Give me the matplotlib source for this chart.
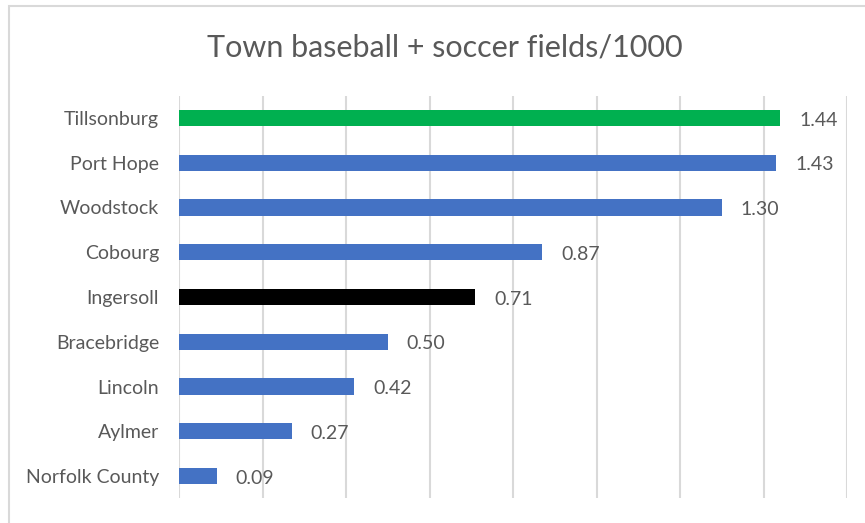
import matplotlib
matplotlib.use("Agg")
import matplotlib.pyplot as plt
from matplotlib.patches import Rectangle

towns = ["Tillsonburg", "Port Hope", "Woodstock", "Cobourg", "Ingersoll",
         "Bracebridge", "Lincoln", "Aylmer", "Norfolk County"]
values = [1.44, 1.43, 1.30, 0.87, 0.71, 0.50, 0.42, 0.27, 0.09]
colors = ["#00B050", "#4472C4", "#4472C4", "#4472C4", "#000000",
          "#4472C4", "#4472C4", "#4472C4", "#4472C4"]
title = "Town baseball + soccer fields/1000"

plt.rcParams['font.family'] = ['Lato', 'DejaVu Sans']
text_color = "#595959"

fig = plt.figure(figsize=(8.65, 5.23), dpi=100)
fig.patch.set_facecolor("white")
# chart border
fig.patches.append(Rectangle((9/865, -0.05), 1.2, 1 - 6/523 + 0.05,
                             transform=fig.transFigure, fill=False,
                             edgecolor="#D9D9D9", linewidth=1.5))

ax = fig.add_axes([179/865, 1 - 498.4/523, (847 - 179)/865, (498.4 - 95.6)/523])
y = list(range(len(towns)))
ax.barh(y, values, height=0.36, color=colors, zorder=3)
ax.set_ylim(len(towns) - 0.5, -0.5)
ax.set_xlim(0, 1.6)
ax.set_xticks([i * 0.2 for i in range(9)])
ax.set_xticklabels([])
ax.tick_params(axis='x', length=0)
ax.tick_params(axis='y', length=0, pad=14.4, labelsize=14, labelcolor=text_color)
ax.set_yticks(y)
ax.set_yticklabels(towns)
ax.grid(axis='x', color="#D9D9D9", linewidth=1.5, zorder=0)
for s in ax.spines.values():
    s.set_visible(False)

for yi, v in zip(y, values):
    ax.annotate(f"{v:.2f}", (v, yi), xytext=(13.7, -1.5), textcoords="offset points",
                ha="left", va="center", fontsize=14, color=text_color)

fig.text(445/865, 1 - 47/523, title, ha="center", va="center", fontsize=22,
         color=text_color)

fig.savefig("out.png", dpi=100)
